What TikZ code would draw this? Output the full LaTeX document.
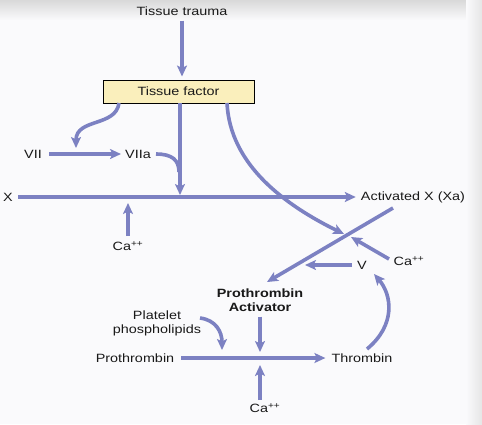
\documentclass[tikz,border=0pt]{standalone}
\usepackage{fontspec}
\setmainfont{Liberation Sans}[FakeStretch=1.2]
\usetikzlibrary{arrows.meta}
\definecolor{arrc}{RGB}{124,129,194}
\definecolor{boxc}{RGB}{250,239,188}
\definecolor{bgc}{RGB}{250,250,252}
\tikzset{
  lbl/.style={inner sep=1bp, font=\fontsize{12bp}{13.8bp}\selectfont, text=black!90},
  arr/.style={draw=arrc, line width=3.6bp, -{Stealth[length=11bp,width=10bp,inset=2.5bp]}},
  ln/.style={draw=arrc, line width=3.6bp},
}
\begin{document}
\begin{tikzpicture}[x=1bp,y=-1bp]
\useasboundingbox (0,0) rectangle (482,424);
\fill[bgc] (0,0) rectangle (482,424);
\shade[top color=black!15, bottom color=bgc] (0,0) rectangle (468,20);
\shade[left color=bgc, right color=black!10] (466,0) rectangle (482,424);

\node[lbl] (trauma) at (182,11) {Tissue trauma};
\node[lbl, draw=black, line width=1bp, fill=boxc, minimum width=151bp, minimum height=23bp, inner sep=0pt] (tf) at (178.5,91.5) {Tissue factor};
\node[lbl] (VII) at (33,154) {VII};
\node[lbl] (VIIa) at (138,154) {VIIa};
\node[lbl] (X) at (8,197) {X};
\node[lbl] (Xa) at (413,197) {Activated X (Xa)};
\node[lbl] (ca1) at (128,246) {Ca\textsuperscript{++}};
\node[lbl] (ca2) at (409,261) {Ca\textsuperscript{++}};
\node[lbl] (V) at (362,265) {V};
\node[lbl, align=center, font=\fontsize{12bp}{13.8bp}\selectfont\bfseries] (pa) at (260,300) {Prothrombin\\Activator};
\node[lbl, align=center] (pp) at (157,323) {Platelet\\phospholipids};
\node[lbl] (pro) at (135,358) {Prothrombin};
\node[lbl] (thr) at (362,358) {Thrombin};
\node[lbl] (ca3) at (265,408) {Ca\textsuperscript{++}};

\coordinate (tfA) at (119,103);
\coordinate (tfB) at (180,103);
\coordinate (tfC) at (227,103);
\coordinate (j7) at (76,148);
\coordinate (jX) at (180,195);
\coordinate (mrg) at (179,172);
\coordinate (xing) at (344,234);
\coordinate (xaS) at (393,208);
\coordinate (xaE) at (267,282);
\coordinate (caE) at (351,237);
\coordinate (vE) at (305,265);
\coordinate (paE) at (260,352);
\coordinate (ppS) at (200,318);
\coordinate (ppE) at (222,350);
\coordinate (ca3E) at (260,365);
\coordinate (thrS) at (367,349);
\coordinate (thrE) at (374,274);
\coordinate (ca1E) at (128,203);

\draw[arr, shorten <=4bp, shorten >=3bp] (trauma.south) -- (tf.north -| trauma);
\draw[arr] (tfA) .. controls (116,127) and (76,118) .. (j7);
\draw[arr, shorten <=6bp, shorten >=3bp] (VII.east) -- (VIIa.west);
\draw[arr] (tfB) -- (jX);
\draw[ln, shorten <=4bp] (VIIa.east) .. controls (172,154) and (179,160) .. (mrg);
\draw[arr] (tfC) .. controls (230,165) and (285,205) .. (xing);
\draw[arr, shorten <=4bp, shorten >=4bp] (X.east) -- (Xa.west);
\draw[arr, shorten <=4bp] (ca1.north) -- (ca1E);
\draw[arr] (xaS) -- (xaE);
\draw[arr, shorten <=4bp] (ca2.west) -- (caE);
\draw[arr, shorten <=4bp] (V.west) -- (vE);
\draw[arr, shorten <=4bp] (pa.south) -- (paE);
\draw[arr] (ppS) .. controls (216,320) and (222,332) .. (ppE);
\draw[arr, shorten <=6bp, shorten >=5bp] (pro.east) -- (thr.west);
\draw[arr, shorten <=2bp] (ca3.north -| paE) -- (ca3E);
\draw[arr] (thrS) .. controls (396,325) and (392,295) .. (thrE);
\end{tikzpicture}
\end{document}
